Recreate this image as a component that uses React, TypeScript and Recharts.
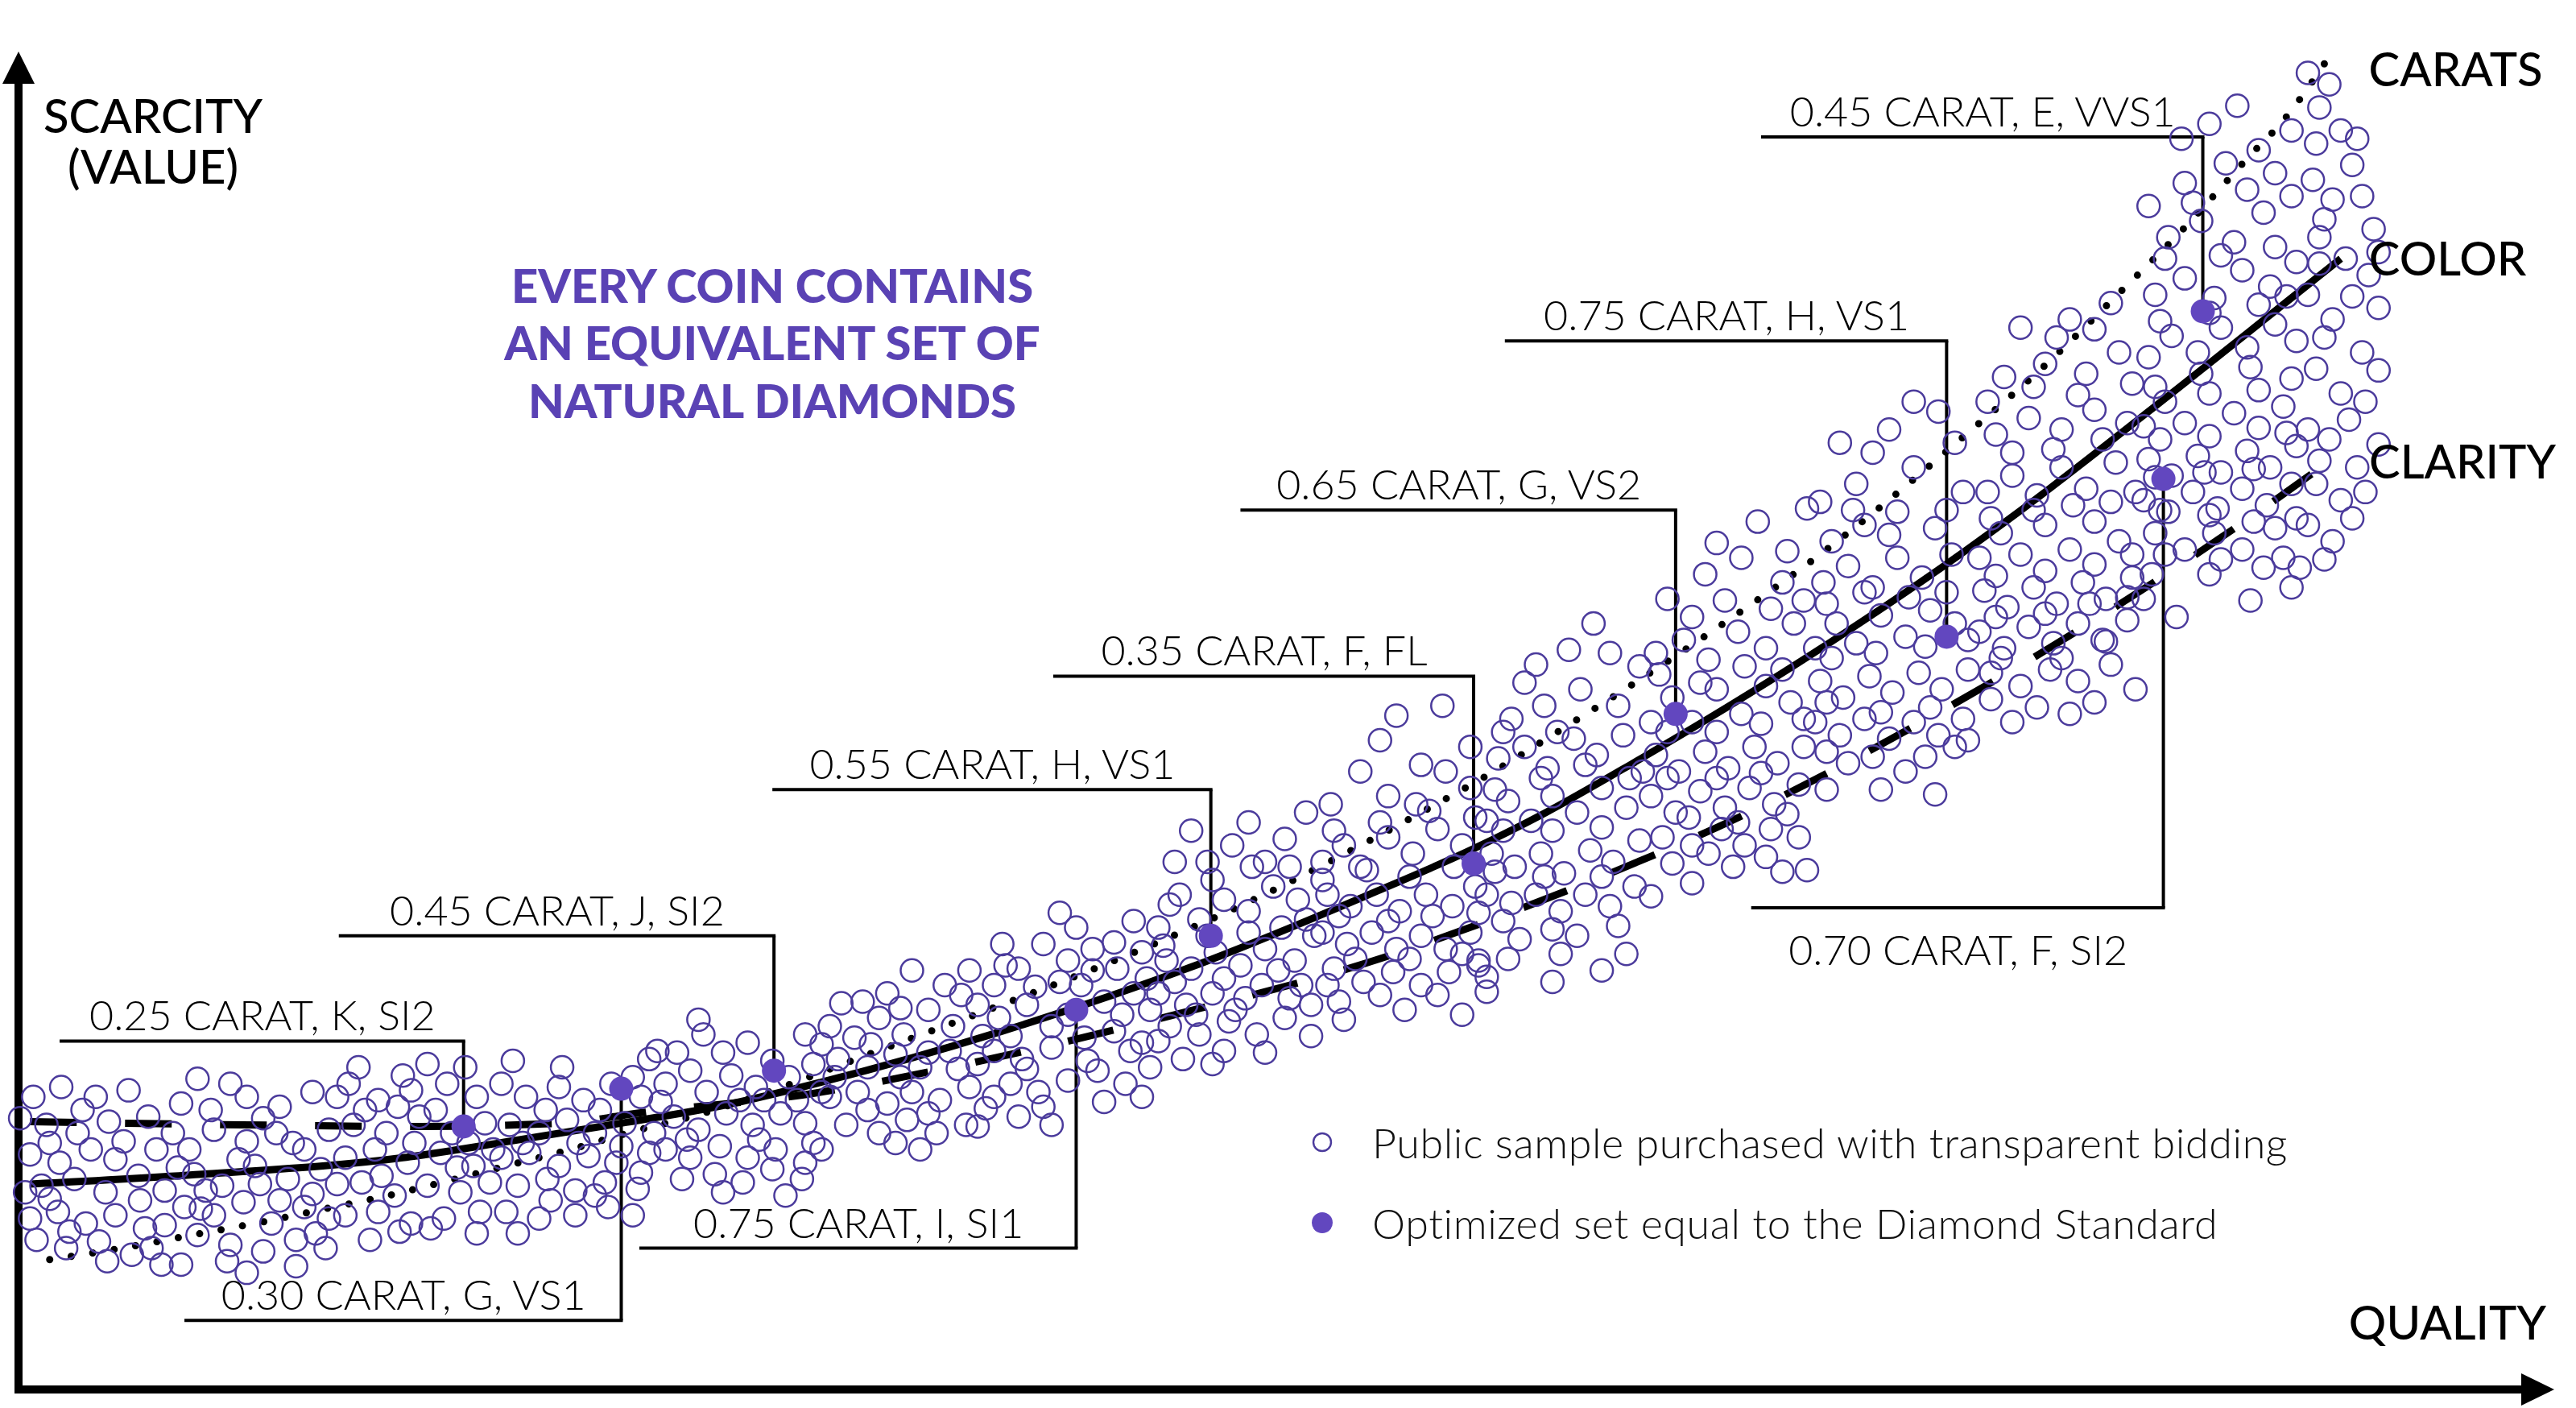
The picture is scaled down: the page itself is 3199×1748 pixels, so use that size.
import React from "react";
import {ComposedChart, Legend, Line, ReferenceDot, ReferenceLine, Scatter, XAxis, YAxis} from "recharts";

const W = 3199;
const H = 1748;
const PURPLE = "#4b3b9c";
const FILL = "#6247bf";
const TITLE = "#5a42b4";
const FONT = "Lato, sans-serif";

// public sample: [quality, scarcity] (index units)
const samplePairs: [number, number][] = [
    [20,178],[37,184],[58,178],[78,182],[28,161],[47,156],[66,163],[90,166],[18,143],[36,138],[55,146],[75,151],[95,146],[25,124],[45,128],[64,120],[84,130],[100,121],[18,104],[35,108],[52,101],[70,106],[88,98],[22,91],[40,86],[60,90],[80,82],[98,76],[30,116],[92,86],[105,156],[110,174],
    [12,165],[30,150],[50,170],[70,140],[85,115],[15,120],[42,96],[65,78],[100,100],[108,135],
    [120,189],[140,186],[150,178],[170,172],[190,181],[115,146],[130,158],[150,151],[168,156],[185,146],[200,158],[118,131],[135,124],[155,136],[175,128],[195,134],[112,111],[130,106],[148,114],[165,101],[185,111],[200,104],[120,94],[140,88],[160,84],[180,91],[198,86],[110,76],[150,71],[205,178],[125,121],[190,119],
    [128,170],[160,165],[178,150],[145,140],[122,110],[170,115],[192,95],[138,78],[180,75],[158,125],
    [212,186],[230,176],[250,182],[260,198],[272,186],[290,178],[215,161],[235,156],[255,166],[275,156],[295,162],[210,141],[228,146],[248,138],[268,144],[288,136],[220,126],[240,118],[260,124],[280,120],[298,126],[210,106],[230,108],[250,101],[270,104],[292,108],[225,91],[262,98],[300,146],[245,191],[283,196],
    [222,170],[242,172],[265,170],[285,150],[205,125],[252,150],[232,130],[278,135],[243,96],[290,95],[218,196],
    [305,186],[320,178],[340,184],[355,176],[372,186],[390,178],[310,161],[328,156],[345,164],[362,156],[380,162],[398,156],[305,141],[322,144],[340,136],[358,142],[375,138],[395,144],[315,124],[333,128],[350,121],[368,126],[388,122],[308,108],[328,104],[350,106],[370,111],[342,196],[395,201],[385,106],
    [312,200],[332,170],[365,170],[385,190],[318,150],[352,150],[390,132],[335,115],[362,118],[315,95],[378,148],
    [405,186],[420,194],[430,181],[445,191],[460,184],[480,190],[495,198],[410,166],[425,158],[442,168],[458,161],[475,168],[490,162],[405,146],[420,141],[438,148],[455,141],[472,146],[490,138],[415,128],[435,131],[452,126],[470,134],[488,128],[428,216],[455,211],[490,216],[400,206],[500,181],[465,176],
    [412,205],[440,205],[470,200],[402,175],[450,176],[485,176],[418,152],[462,152],[495,150],[440,120],[478,118],[425,225],[500,210],
    [505,221],[520,214],[535,226],[550,216],[565,231],[580,221],[595,234],[510,201],[528,196],[545,204],[560,196],[578,206],[595,198],[505,178],[522,181],[540,174],[555,181],[572,176],[590,184],[515,161],[535,156],[552,164],[570,156],[588,161],[500,146],[540,241],[575,246],[600,171],[525,236],[560,146],
    [512,235],[548,232],[585,240],[530,210],[565,205],[598,215],[508,190],[548,190],[583,195],[528,170],[565,168],[545,150],[595,160],[555,255],[590,255],
    [605,246],[620,256],[635,271],[650,261],[665,268],[680,256],[695,266],[608,226],[625,234],[640,221],[658,246],[672,236],[690,241],[605,206],[622,201],[640,208],[660,214],[678,218],[695,211],[615,186],[632,181],[650,188],[668,194],[685,186],[620,166],[640,161],[700,231],[655,281],[610,271],[688,206],[700,196],
    [612,258],[645,248],[678,272],[630,245],[665,255],[698,250],[615,215],[650,228],[683,228],[625,195],[662,200],[695,178],[635,172],[672,175],[605,178],[645,290],[690,285],
    [705,281],[718,301],[730,286],[745,298],[760,291],[775,306],[790,298],[710,261],[725,256],[740,266],[755,258],[770,268],[788,261],[705,241],[722,234],[738,241],[752,231],[768,246],[785,238],[712,221],[730,216],[748,224],[765,216],[782,226],[798,234],[720,201],[745,206],[715,321],[750,331],[795,351],[770,321],[800,276],[780,281],[735,321],
    [712,295],[738,310],[762,318],[785,318],[708,270],[735,276],[760,278],[795,286],[715,248],[745,250],[778,255],[728,228],[758,238],[792,246],[705,212],[738,198],[770,205],[798,215],[725,340],[760,345],[782,335],
    [805,321],[818,331],[832,316],[845,336],[860,326],[875,341],[890,331],[808,301],[822,294],[838,301],[852,291],[868,301],[884,294],[898,306],[805,278],[820,271],[835,278],[850,268],[865,276],[880,268],[895,278],[812,256],[830,248],[848,254],[865,246],[882,254],[900,258],[828,376],[845,361],[862,356],[880,376],[895,366],[810,356],[878,416],[895,391],[815,236],[855,231],
    [812,340],[840,345],[870,352],[898,348],[805,310],[828,318],[858,312],[885,318],[815,288],[845,285],[872,288],[900,290],[825,262],[858,262],[890,265],[808,246],[840,240],[875,240],[840,395],[865,380],[850,410],[818,225],[890,228],
    [905,346],[918,358],[932,346],[945,361],[960,351],[975,366],[990,354],[908,326],[922,318],[938,326],[952,314],[968,328],[982,321],[998,334],[905,301],[920,296],[935,301],[950,291],[965,301],[980,294],[995,306],[912,384],[928,391],[942,378],[958,396],[972,386],[988,398],[920,408],[940,416],[962,426],[985,416],[935,441],[970,466],[900,261],[905,251],[960,276],[1000,376],[925,274],
    [910,365],[938,372],[965,380],[992,372],[915,340],[945,340],[975,342],[910,315],[940,312],[975,312],[915,285],[945,280],[985,282],[918,262],[950,265],[990,265],[928,430],[955,450],[980,448],[998,440],[948,400],[915,400],[905,242],[945,248],[975,255],
    [1005,406],[1018,421],[1030,406],[1045,426],[1060,411],[1075,428],[1090,418],[1008,386],[1022,376],[1038,388],[1052,378],[1068,391],[1082,381],[1098,391],[1005,361],[1020,351],[1035,364],[1050,354],[1065,366],[1080,356],[1095,368],[1012,336],[1030,331],[1048,341],[1062,331],[1078,341],[1095,336],[1008,448],[1025,456],[1040,444],[1058,461],[1075,451],[1092,466],[1015,481],[1038,496],[1060,506],[1085,491],[1100,536],[1070,528],[1040,326],[1075,324],[1030,308],[1100,316],
    [1010,435],[1035,430],[1062,440],[1085,438],[1015,400],[1045,400],[1072,405],[1098,408],[1015,372],[1045,372],[1072,375],[1028,348],[1058,345],[1088,350],[1018,320],[1055,318],[1085,315],[1030,470],[1050,480],[1078,475],[1098,480],[1045,515],[1088,510],[1005,300],
    [1105,451],[1118,466],[1130,454],[1145,471],[1160,458],[1175,474],[1190,466],[1108,431],[1122,421],[1138,434],[1152,424],[1168,436],[1182,426],[1198,438],[1105,406],[1120,398],[1135,408],[1150,396],[1165,406],[1180,398],[1195,408],[1110,491],[1125,501],[1140,488],[1155,506],[1170,494],[1188,508],[1115,516],[1135,526],[1155,534],[1178,524],[1195,546],[1130,551],[1165,561],[1125,381],[1160,376],[1190,391],[1120,576],[1150,584],[1190,576],[1165,601],
    [1112,478],[1135,485],[1162,482],[1185,485],[1115,445],[1142,448],[1172,452],[1198,456],[1112,418],[1145,412],[1175,415],[1112,388],[1140,385],[1172,385],[1198,395],[1128,535],[1150,520],[1185,535],[1112,365],[1145,365],[1178,362],[1140,570],[1180,595],[1108,540],
    [1205,506],[1218,521],[1230,508],[1245,526],[1260,511],[1275,528],[1290,516],[1208,486],[1222,476],[1238,488],[1252,478],[1268,491],[1282,481],[1298,494],[1205,461],[1220,451],[1235,464],[1250,454],[1265,466],[1280,456],[1295,468],[1212,436],[1230,428],[1248,438],[1265,431],[1285,441],[1210,546],[1225,556],[1240,544],[1255,561],[1270,548],[1288,564],[1215,581],[1235,591],[1255,584],[1275,596],[1295,588],[1220,616],[1245,624],[1270,618],[1290,631],[1230,646],[1260,651],[1285,661],[1225,406],[1260,411],[1300,426],[1210,601],[1300,546],
    [1212,530],[1238,535],[1262,538],[1285,540],[1215,495],[1245,498],[1275,502],[1298,508],[1215,470],[1245,472],[1272,478],[1295,482],[1218,445],[1255,445],[1282,455],[1225,570],[1250,572],[1280,578],[1212,420],[1240,415],[1275,418],[1238,610],[1265,605],[1298,612],[1252,640],[1275,645],
    [1305,586],[1318,601],[1330,588],[1345,606],[1360,594],[1375,608],[1390,598],[1308,566],[1322,556],[1338,568],[1352,558],[1368,571],[1382,561],[1398,574],[1305,541],[1320,534],[1335,546],[1350,536],[1365,548],[1380,538],[1395,551],[1312,521],[1330,511],[1348,521],[1365,511],[1385,524],[1308,628],[1322,641],[1338,631],[1352,646],[1368,634],[1385,648],[1398,638],[1312,666],[1330,676],[1348,664],[1365,681],[1382,671],[1398,686],[1320,701],[1340,711],[1360,698],[1378,716],[1395,726],[1330,734],[1355,746],[1375,754],[1395,766],[1362,781],[1328,761],[1310,496],[1345,496],[1390,506],[1305,481],
    [1312,610],[1340,618],[1370,622],[1395,615],[1315,578],[1345,580],[1375,585],[1392,582],[1312,555],[1342,558],[1372,560],[1315,535],[1345,532],[1372,528],[1398,530],[1318,508],[1352,505],[1378,500],[1315,650],[1345,655],[1375,660],[1392,665],[1318,688],[1352,690],[1385,695],[1335,722],[1368,730],[1345,770],[1385,740],[1308,720],[1325,470],[1370,480],[1395,488],
    [1405,801],[1418,794],[1410,758],[1425,766],[1435,761],[1408,736],[1420,724],[1438,726],[1412,701],[1428,688],[1442,678],[1448,658],[1405,666],[1420,651],[1438,631],[1410,621],[1425,606],[1440,601],[1405,584],[1418,578],[1435,561],[1410,551],[1425,541],[1405,526],[1420,516],[1440,546],[1445,706],
    [1412,780],[1432,745],[1415,712],[1448,692],[1412,685],[1432,665],[1448,620],[1415,640],[1430,590],[1448,575],[1412,565],[1432,530],[1415,505],[1400,500],
];

// optimized set (the Diamond Standard picks)
const optimizedPairs: [number, number][] = [
    [282,160],[378,183],[471,194],[655,231],[737,276],[897,320],[1020,411],[1185,458],[1317,554],[1341,656],
];
const gradeLabels = [
    "0.25 CARAT, K, SI2", "0.30 CARAT, G, VS1", "0.45 CARAT, J, SI2", "0.75 CARAT, I, SI1", "0.55 CARAT, H, VS1",
    "0.35 CARAT, F, FL", "0.65 CARAT, G, VS2", "0.75 CARAT, H, VS1", "0.70 CARAT, F, SI2", "0.45 CARAT, E, VVS1",
];

// trend curves
const caratsPairs: [number, number][] = [
    [30,79],[74,86],[117,94],[160,102],[203,111],[232,117],[261,124],[304,135],[347,146],[389,158],[417,165],[487,188],[500,193],
    [707,273],[761,297],[813,323],[865,351],[916,380],[940,395],[1003,435],[1052,468],[1100,502],[1146,538],[1191,576],
    [1247,625],[1289,666],[1330,707],[1370,751],[1390,772],[1418,811],
];
const colorPairs: [number, number][] = [
    [18,125],[123,131],[245,141],[310,151],[378,162],[441,173],[500,187],[610,218],[725,257],[833,301],[897,329],
    [941,351],[994,381],[1104,448],[1196,510],[1229,534],[1327,610],[1425,688],
];
const clarityPairs: [number, number][] = [
    [18,163],[147,161],[255,160],[343,162],[387,168],[494,180],[588,198],[711,227],[846,264],[900,283],[980,314],
    [1054,346],[1168,405],[1275,468],[1372,532],[1428,572],
];

const toPts = (pairs: [number, number][]) => pairs.map(([q, s]) => ({q, s}));
const publicSample = toPts(samplePairs);
const optimizedSet = toPts(optimizedPairs);
const carats = toPts(caratsPairs);
const color = toPts(colorPairs);
const clarity = toPts(clarityPairs);

// callouts: left end of the tag line and its level, per optimized point
const calloutFrom = [37, 113, 207, 390, 471, 642, 756, 917, 1067, 1073];
const calloutLevel = [212, 42, 276, 86, 365, 434, 535, 638, 293, 762];
const calloutBelow = [false, false, false, false, false, false, false, false, true, false];

const HollowMark = (props: any) => (
    <circle cx={props.cx} cy={props.cy} r={14} fill="none" stroke={PURPLE} strokeWidth={2.5}/>
);
const FilledMark = (props: any) => (
    <circle cx={props.cx} cy={props.cy} r={15} fill={FILL}/>
);
const ArrowUp = (props: any) => (
    <polygon points={`${props.cx},${props.cy} ${props.cx - 20},${props.cy + 40} ${props.cx + 20},${props.cy + 40}`} fill="#000"/>
);
const ArrowRight = (props: any) => (
    <polygon points={`${props.cx},${props.cy} ${props.cx - 41},${props.cy - 20} ${props.cx - 41},${props.cy + 20}`} fill="#000"/>
);

const legendRows = [
    {name: "Public sample purchased with transparent bidding", hollow: true},
    {name: "Optimized set equal to the Diamond Standard", hollow: false},
];

const LegendBox = () => (
    <div style={{fontFamily: FONT, fontWeight: 300, fontSize: 52, color: "#111"}}>
        {legendRows.map((r) => (
            <div key={r.name} style={{display: "flex", alignItems: "center", height: 100}}>
                <svg width={40} height={40}>
                    {r.hollow
                        ? <circle cx={20} cy={20} r={11} fill="none" stroke={PURPLE} strokeWidth={2.4}/>
                        : <circle cx={20} cy={20} r={13} fill={FILL}/>}
                </svg>
                <span style={{marginLeft: 42, letterSpacing: 0.6, whiteSpace: "nowrap"}}>{r.name}</span>
            </div>
        ))}
    </div>
);

const axisLabel = {fontFamily: FONT, fontWeight: 500, fontSize: 58, fill: "#000"};
const curveLabel = (value: string, dx: number, dy: number) => ({
    content: (p: any) => (
        <text x={p.viewBox.x + p.viewBox.width + dx} y={p.viewBox.y + p.viewBox.height / 2 + dy} {...axisLabel}>{value}</text>
    ),
});

const lastOf = (arr: {q: number; s: number}[]) => arr[arr.length - 1];

export default function App() {
    return (
        <div style={{position: "absolute", left: 0, top: 0, width: W, height: H, background: "#fff"}}>
            <ComposedChart width={W} height={H} margin={{top: 64, right: 27, bottom: 23, left: 23}}>
                <XAxis type="number" dataKey="q" domain={[11, 1555]} hide/>
                <YAxis type="number" dataKey="s" domain={[0, 814]} hide/>

                <Scatter name={legendRows[0].name} data={publicSample} shape={HollowMark} isAnimationActive={false}/>

                <Line data={carats} dataKey="s" type="monotone" stroke="#000" strokeWidth={9} strokeDasharray="0 27"
                      strokeLinecap="round" dot={false} legendType="none" isAnimationActive={false}/>
                <Line data={color} dataKey="s" type="monotone" stroke="#000" strokeWidth={9}
                      dot={false} legendType="none" isAnimationActive={false}/>
                <Line data={clarity} dataKey="s" type="monotone" stroke="#000" strokeWidth={9} strokeDasharray="58 60"
                      dot={false} legendType="none" isAnimationActive={false}/>

                {optimizedSet.flatMap((p, i) => [
                    <ReferenceLine key={`h${i}`} segment={[{x: calloutFrom[i], y: calloutLevel[i]}, {x: p.q, y: calloutLevel[i]}]}
                                   stroke="#000" strokeWidth={4} strokeLinecap="square"
                                   label={{
                                       value: gradeLabels[i], position: calloutBelow[i] ? "bottom" : "top",
                                       offset: calloutBelow[i] ? 34 : 13, fontFamily: FONT, fontWeight: 300, fontSize: 52, fill: "#000",
                                   }}/>,
                    <ReferenceLine key={`v${i}`} segment={[{x: p.q, y: calloutLevel[i]}, {x: p.q, y: p.s}]}
                                   stroke="#000" strokeWidth={4}/>,
                ])}

                <Scatter name={legendRows[1].name} data={optimizedSet} shape={FilledMark} isAnimationActive={false}/>

                {/* axes with arrow heads */}
                <ReferenceLine segment={[{x: 11, y: 0}, {x: 11, y: 794}]} stroke="#000" strokeWidth={10} strokeLinecap="square"/>
                <ReferenceLine segment={[{x: 11, y: 0}, {x: 1535, y: 0}]} stroke="#000" strokeWidth={10} strokeLinecap="square"/>
                <ReferenceDot x={11} y={814} r={1} shape={ArrowUp}/>
                <ReferenceDot x={1555} y={0} r={1} shape={ArrowRight}/>

                {/* end-of-curve names */}
                <ReferenceDot x={lastOf(carats).q} y={lastOf(carats).s} r={1} fill="none" stroke="none"
                              label={curveLabel("CARATS", 48, 37)}/>
                <ReferenceDot x={lastOf(color).q} y={lastOf(color).s} r={1} fill="none" stroke="none"
                              label={curveLabel("COLOR", 34, 21)}/>
                <ReferenceDot x={lastOf(clarity).q} y={lastOf(clarity).s} r={1} fill="none" stroke="none"
                              label={curveLabel("CLARITY", 28, 36)}/>

                <text x={190} y={165} textAnchor="middle" {...axisLabel}>SCARCITY</text>
                <text x={190} y={228} textAnchor="middle" {...axisLabel}>(VALUE)</text>
                <text x={3162} y={1663} textAnchor="end" {...axisLabel}>QUALITY</text>

                <g fontFamily={FONT} fontWeight={900} fontSize={58} fill={TITLE} textAnchor="middle">
                    <text x={959} y={376}>EVERY COIN CONTAINS</text>
                    <text x={959} y={447}>AN EQUIVALENT SET OF</text>
                    <text x={959} y={519}>NATURAL DIAMONDS</text>
                </g>

                <Legend layout="vertical" align="center" verticalAlign="middle" content={LegendBox}
                        wrapperStyle={{left: 1622, top: 1368, width: 1400, height: 200}}/>
            </ComposedChart>
        </div>
    );
}
